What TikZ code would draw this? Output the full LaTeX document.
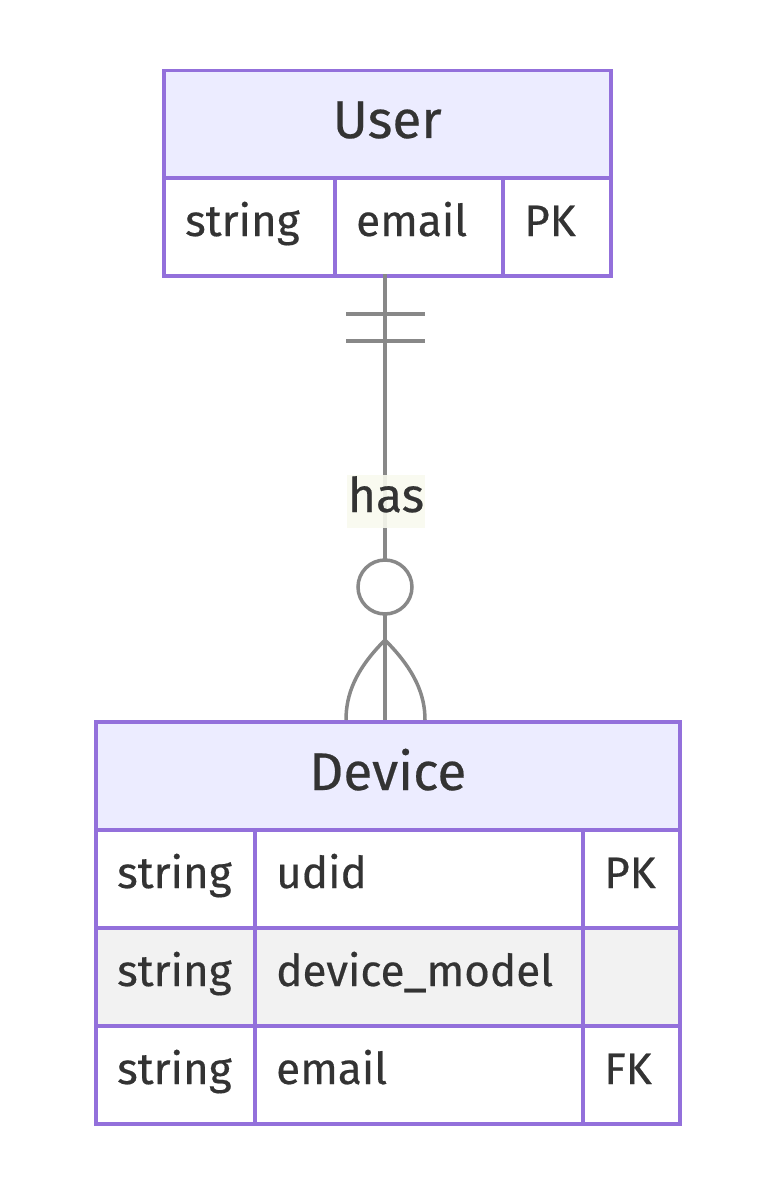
\documentclass[tikz,border=0pt]{standalone}
\usepackage{fontspec}
\setmainfont{Fira Sans}[FakeBold=0.4]
\definecolor{bordc}{HTML}{9370DB}
\definecolor{headc}{HTML}{ECECFF}
\definecolor{altc}{HTML}{F2F2F2}
\definecolor{txtc}{HTML}{333333}
\definecolor{linec}{HTML}{888888}
\definecolor{lblc}{HTML}{F8FAEE}
\tikzset{
  cell/.style={draw=bordc, line width=3.5pt, inner sep=0pt, anchor=north west},
  txt/.style={text=txtc, font=\fontsize{44}{50}\selectfont, inner sep=0pt},
  hdr/.style={text=txtc, font=\fontsize{53}{60}\selectfont, inner sep=0pt, anchor=base},
  attr/.style={txt, anchor=base west},
  rel/.style={draw=linec, line width=3.5pt},
}
\begin{document}
\begin{tikzpicture}[x=1pt,y=-1pt]
\useasboundingbox (0,0) rectangle (758,1196);
% User entity
\node[cell, fill=headc, minimum width=447pt, minimum height=107pt] (uh) at (162,69) {};
\node[cell, fill=white, minimum width=171pt, minimum height=98pt] (u1) at (162,176) {};
\node[cell, fill=white, minimum width=168pt, minimum height=98pt] (u2) at (333,176) {};
\node[cell, fill=white, minimum width=108pt, minimum height=98pt] (u3) at (501,176) {};
\node[hdr] (uht) at ([yshift=-69pt]uh.north) {User};
\node[attr] (u1t) at ([xshift=23pt,yshift=-60pt]u1.north west) {string};
\node[attr] (u2t) at ([xshift=23pt,yshift=-60pt]u2.north west) {email};
\node[attr] (u3t) at ([xshift=23pt,yshift=-60pt]u3.north west) {PK};
% Device entity
\node[cell, fill=headc, minimum width=584pt, minimum height=108pt] (dh) at (94,720) {};
\node[cell, fill=white, minimum width=159pt, minimum height=98pt] (d11) at (94,828) {};
\node[cell, fill=white, minimum width=328pt, minimum height=98pt] (d12) at (253,828) {};
\node[cell, fill=white, minimum width=97pt, minimum height=98pt] (d13) at (581,828) {};
\node[cell, fill=altc, minimum width=159pt, minimum height=98pt] (d21) at (94,926) {};
\node[cell, fill=altc, minimum width=328pt, minimum height=98pt] (d22) at (253,926) {};
\node[cell, fill=altc, minimum width=97pt, minimum height=98pt] (d23) at (581,926) {};
\node[cell, fill=white, minimum width=159pt, minimum height=98pt] (d31) at (94,1024) {};
\node[cell, fill=white, minimum width=328pt, minimum height=98pt] (d32) at (253,1024) {};
\node[cell, fill=white, minimum width=97pt, minimum height=98pt] (d33) at (581,1024) {};
\node[hdr] (dht) at ([yshift=-70pt]dh.north) {Device};
\node[attr] at ([xshift=23pt,yshift=-60pt]d11.north west) {string};
\node[attr] at ([xshift=23pt,yshift=-60pt]d12.north west) {udid};
\node[attr] at ([xshift=23pt,yshift=-60pt]d13.north west) {PK};
\node[attr] at ([xshift=23pt,yshift=-60pt]d21.north west) {string};
\node[attr] at ([xshift=23pt,yshift=-60pt]d22.north west) {device\_model};
\node[attr] at ([xshift=23pt,yshift=-60pt]d31.north west) {string};
\node[attr] at ([xshift=23pt,yshift=-60pt]d32.north west) {email};
\node[attr] at ([xshift=23pt,yshift=-60pt]d33.north west) {FK};
% relationship
\coordinate (top) at (385,274);
\coordinate (bot) at (385,720);
\coordinate (fork) at (385,640);
\draw[rel] (top) -- (bot);
\draw[rel] (346,314) -- (425,314);
\draw[rel] (346,341) -- (425,341);
\draw[rel, fill=white] (385,587) circle (27pt);
\draw[rel] (fork) .. controls (355,670) and (346,695) .. (346,720);
\draw[rel] (fork) .. controls (415,670) and (425,695) .. (425,720);
\fill[lblc, fill opacity=0.9] (347,475) rectangle (425,528);
\node[text=txtc, font=\fontsize{48}{54}\selectfont, inner sep=0pt, anchor=base] (lbl) at (386,512) {has};
\end{tikzpicture}
\end{document}
